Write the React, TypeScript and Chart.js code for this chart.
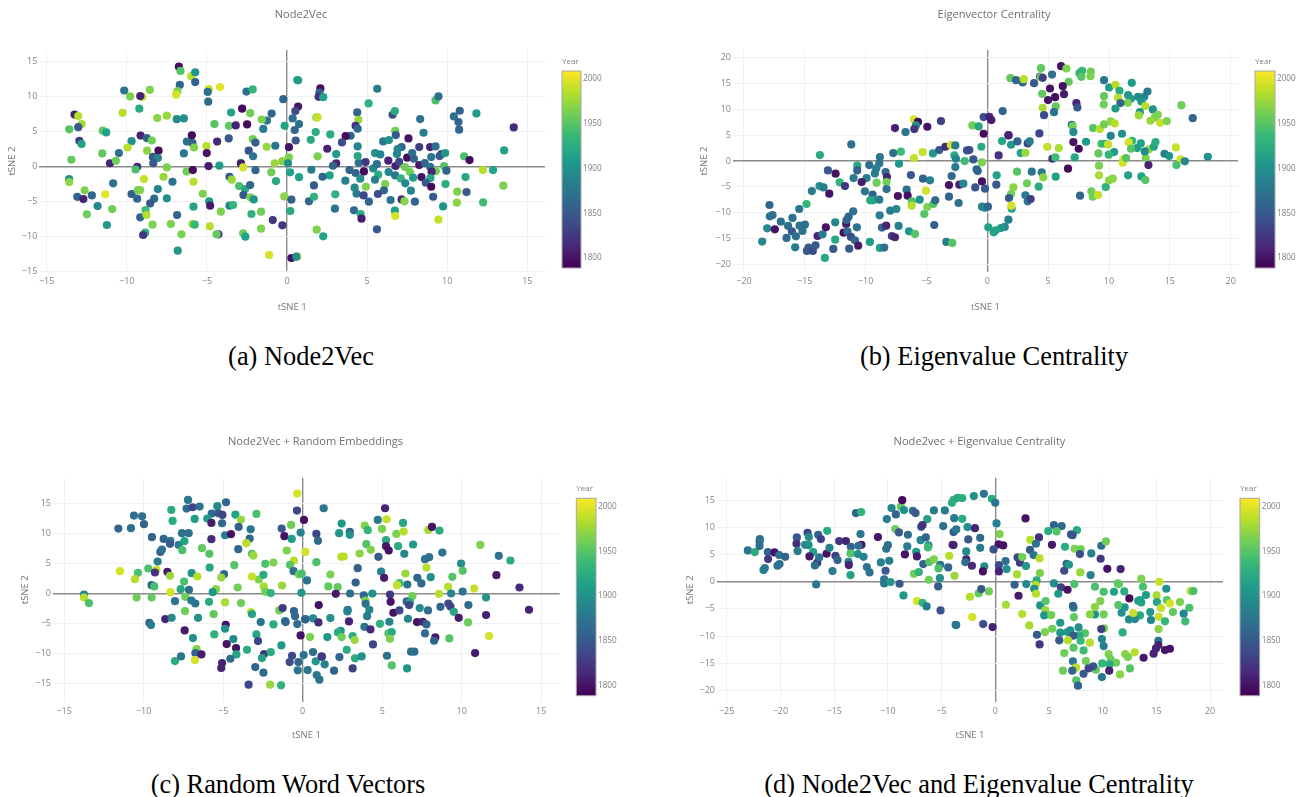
import React, { useEffect, useRef } from "react";
import { Chart, registerables } from "chart.js";

Chart.register(...registerables);

// Each point: [tSNE 1, tSNE 2, year]
const node2vecPoints: number[][] = [
[-6.75,14.3,1795],[-6.65,13.7,1950],[-5.98,12.95,1985],[-5.73,13.5,1905],[-5.73,12.1,1860],[-6.69,11.7,1860],[-6.84,10.8,1965],[-6.92,10.3,1995],[-4.88,11.1,1990],[-4.95,10.7,1870],[-4.18,11.4,2000],[-4.92,9.3,1865],[-10.16,10.9,1875],[-9.79,10.05,1965],[-9.04,10,1985],[-9.16,10.1,1810],[-8.56,11,1965],[-9.22,8.3,1925],[-10.26,7.7,1985],[-8.1,6.95,1970],[-7.5,7.3,1975],[-6.88,6.8,1895],[-6.44,6.9,1900],[-4.53,6.1,1950],[-3.49,7.75,1915],[-3.62,5.85,1955],[-3.2,5.9,1810],[-2.8,8.3,1795],[-2.49,6.05,1795],[-2.3,7.65,1960],[-2.53,10.75,1870],[-2.14,11.05,1935],[-0.23,9.65,1860],[0.64,12.4,1920],[0.69,12.35,1910],[0.69,8.6,1800],[0.52,7.95,1840],[0.35,6.9,1870],[-0.96,7.6,1860],[-1.25,6.6,1875],[-1.58,6.75,1965],[-1.48,5.4,1880],[-0.15,5.85,1915],[0.48,5.25,1860],[0.75,6.1,1875],[0.54,3.75,1850],
[-13.26,7.45,1810],[-13.03,7.25,1985],[-12.82,6.1,1980],[-13.03,5.65,1850],[-13.59,5.35,1950],[-12.96,3.7,1830],[-12.82,3.25,1915],[-11.5,5.15,1955],[-11.28,4.9,1915],[-9.14,4.45,1810],[-9.7,3.65,1900],[-8.75,4.1,1860],[-8.44,3.75,1960],[-9.95,2.75,1985],[-8.73,2.3,1970],[-8.02,2.3,1795],[-10.49,1.95,1870],[-11.53,1.9,1955],[-13.46,1,1955],[-8.37,1.4,1850],[-8.06,1.25,1890],[-11.05,0.5,1810],[-10.68,0.85,1960],[-8.35,0.5,1850],[-9.35,0,1815],[-9.45,-0.4,1945],[-7.5,-0.1,1965],[-6.25,3.6,1870],[-5.9,3.4,1860],[-5.94,4.5,1795],[-5.8,2.75,1965],[-6.44,1.9,1875],[-5.03,2.95,1985],[-4.36,3.6,1815],[-3.64,4.05,1850],[-5.01,1.95,1800],[-4.9,0.1,1805],[-4.22,0.15,1910],[-2.14,3.95,1960],[-1.97,3.45,1855],[-2.39,2.3,1845],[-2.12,1.5,1875],[-1.27,2.85,1975],[-0.73,3,1875],[0.12,2.8,1800],[0.12,1.35,1965],[-0.29,0.8,1970],[-0.77,0.5,1975],[0.06,0.5,1900],[1.48,3.85,1925],[1.79,4.95,1925],[1.83,7.05,1965],[1.9,7.05,1990],
[-2.89,0.55,1940],[-2.87,0.43,1805],[-2.74,-0.1,1995],[-1.97,-0.5,1860],[-0.98,-0.8,1960],[-0.69,-2.05,1925],[0.19,-0.8,1915],[0.75,-1.5,1915],[1.52,-0.43,1880],[-6.27,-0.7,1960],[-5.88,-0.48,1795],[-3.59,-1.43,1850],[-3.45,-1.85,1975],[-7.15,-2.15,1875],[-7.71,-1.43,1975],[-8.93,-1.76,1990],[-5.84,-2.15,1985],[-10.85,-2.38,1870],[-13.6,-1.76,1900],[-13.59,-2.2,1970],[-12.63,-3.38,1965],[-12.18,-4.1,1860],[-13.09,-4.3,1860],[-12.71,-4.62,1810],[-11.34,-3.95,2000],[-9.7,-3.9,1855],[-9.35,-4.57,1860],[-9.16,-3.33,1970],[-9.31,-3.33,1965],[-8.06,-3.2,1885],[-8.29,-4.57,1865],[-8.54,-5.24,1850],[-7.5,-4.52,1900],[-11.82,-5.62,1890],[-10.91,-6.05,1960],[-12.49,-6.8,1960],[-11.24,-8.33,1905],[-8.83,-6.2,1940],[-9.16,-7.24,1860],[-8.77,-6.9,1985],[-8.39,-8.29,1965],[-7.25,-8.19,1965],[-6.86,-6.9,1860],[-8.85,-9.43,1930],[-8.98,-9.76,1825],[-6.59,-9.67,1965],[-5.26,-3.86,1965],[-4.86,-4.95,1910],[-4.8,-5.57,1805],[-5.84,-5.71,1915],[-4.13,-6.43,1965],[-3.59,-5.57,1890],[-3.37,-5.48,1935],[-2.99,-2.76,1945],[-2.62,-3.2,1920],[-2.3,-2.62,1860],[-2.72,-4.05,1850],[-2.29,-4.38,1965],[-2.08,-4.67,1905],[-2.22,-6.76,1930],[-1.62,-6.43,1960],[-0.89,-7.62,1825],[-0.29,-8.38,1825],[-1.62,-8.86,1965],[-0.17,-4.24,1970],[0.27,-4.71,1855],[0.21,-6.33,1925],[1.37,-4.95,1860],[1.68,-4.29,1930],[1.68,-2.67,1850],[-4.82,-8.52,1985],[-5.9,-8.19,1975],[-5.76,-8.29,1935],[-4.28,-9.67,1835],[-4.4,-9.67,1955],[-2.74,-9.52,1960],[-2.6,-10,1915],[-6.82,-12,1905],[-1.12,-12.62,1995],[0.27,-13.05,1800],[0.64,-12.86,1995],[0.58,-12.86,1900],[1.85,-9,1965],[2.26,-9.95,1915],
[2.08,11.2,1795],[2.02,10.6,1860],[1.97,10,1820],[2.26,9.95,1915],[5.63,11.15,1880],[5.09,9.05,1930],[4.38,7.76,1860],[4.45,6.71,1975],[4.28,5.86,1820],[4.41,5.43,1860],[3.97,4.43,1860],[3.66,4.38,1795],[3.43,3.48,1840],[2.7,4.62,1925],[2.51,2.57,1810],[1.91,1.48,1965],[3.07,1.81,1910],[3.07,0.48,1810],[2.87,0.14,1860],[2.66,-1.24,1915],[2.22,-1.43,1860],[3.01,-3.95,1930],[3.64,-2,1885],[3.9,-0.48,1860],[4.28,-0.9,1860],[4.57,-1.71,1900],[4.47,0.57,1870],[4.41,1.52,1920],[4.41,2.9,1890],[4.9,0.67,1825],[4.8,-0.67,1795],[5.38,-0.24,1890],[5.61,0.38,1870],[5.69,-1.14,1925],[5.49,-1.86,1885],[4.92,-2.86,1965],[4.22,-3,1895],[4.34,-3.86,1880],[4.78,-4.1,1835],[5.11,-5,1860],[4.18,-6.24,1865],[4.59,-6.76,1925],[4.65,-7.43,1805],[2.99,-6,1875],[5.61,-8.95,1850],[5.49,1.95,1900],[5.82,1.76,1890],[6,3.62,1875],[6.36,3.81,1900],[6.59,7.43,1840],[6.73,7.95,1925],[6.75,5.14,1960],[6.79,4.52,1850],[7.58,4.05,1800],[7.15,2.81,1860],[6.9,2.52,1890],[6.86,1.81,1890],[6.32,0.86,1810],[6.77,0.1,1810],[7,0.71,1835],[7.5,1.29,1795],[7.81,1.95,1870],[7.92,1.14,1860],[8.25,2.81,1830],[8.25,0.24,1805],[7.36,-0.05,1960],[7.67,-0.76,1960],[6.34,-0.76,1890],[6.75,-1.24,1875],[7.1,-1.67,1930],[7.38,-2.38,1890],[7.87,-1.57,1910],[6.13,-2.48,1965],[6.05,-3.38,1860],[5.67,-3.9,1840],[6.46,-4.76,1875],[7.15,-4.67,1820],[7.33,-4.95,1970],[7.98,-5,1860],[7.73,-3.43,1890],[6.73,-6.29,1915],[6.75,-7.05,1995],[8.31,6.81,1870],[8.52,4.86,1880],[8.93,2.81,1810],[9.27,2.9,1870],[9.64,1.81,1825],[9.52,1.52,1850],[9,1.38,1875],[9.87,1.95,1905],[8.6,0.52,1860],[8.93,0,1870],[9.81,0.1,1950],[9.29,-0.62,1960],[9.02,-0.71,1810],[9.95,-0.57,1860],[8.39,-1.48,1800],[8.95,-1.62,1915],[8.66,-2.29,1850],[9,-2.86,1795],[9.89,-2.48,1925],[9.12,-4.29,1850],[9.74,-5.67,1900],[9.45,-7.57,1990],[9.27,9.48,1945],[9.45,10.05,1870],[10.41,7.19,1870],[10.78,8,1860],[10.7,6.38,1860],[10.74,5.29,1860],[11.82,7.62,1910],[11.05,1.48,1945],[11.39,0.95,1795],[11.14,-1.48,1920],[10.62,-3.57,1965],[11.2,-3.62,1850],[10.6,-5.14,1970],[12.22,-0.48,1985],[12.86,-0.48,1915],[12.24,-5.1,1940],[13.5,-2.71,1965],[13.55,2.33,1915],[14.15,5.62,1815],
];

const eigenvectorPoints: number[][] = [
[-6.03,8.06,1995],[-5.7,7.61,1795],[-5.87,6.9,1900],[-6,6.19,1825],[-7.59,6.39,1810],[-6.72,5.61,1870],[-4.93,6.65,1800],[-3.81,7.74,1830],[-0.3,8.52,1840],[0.16,8.58,1810],[0.33,7.94,1805],[1.26,9.68,1860],[-1.23,6.9,1960],[-0.71,6.71,1920],[-0.3,5.29,1795],[-11.18,3.23,1870],[-13.76,1.16,1925],[-7.73,1.55,1865],[-7.1,1.81,1940],[-8.83,0.77,1875],[-6.03,0.58,1990],[-5.32,1.74,1990],[-4.47,1.48,1905],[-3.95,2.13,1850],[-3.45,2.77,1815],[-2.99,3.1,1995],[-2.63,3.03,1880],[-2.71,1.1,1925],[-2.58,0.45,1885],[-1.67,2.06,1850],[-1.48,2.13,1840],[-0.49,2.77,1925],[-1.15,0.32,1850],[-1.86,0,1940],[-0.44,-0.26,1965],[-2.63,-1.16,1880],[-0.88,-1.61,1860],[-0.79,-1.94,1860],[-2.93,-2.9,1865],[-6.28,-2.71,1850],[-7.26,-0.52,1905],[-8.88,-0.45,1875],[-9.7,-0.77,1870],[-10.69,-0.9,1920],[-10.69,-1.81,1855],[-10.99,-3.29,1880],[-9.92,-3.29,1885],[-9.13,-1.42,1885],[-9.24,-2.39,1880],[-8.36,-2.13,1865],[-8.25,-3.1,1810],[-8.28,-4.06,1960],[-9.1,-4.19,1960],[-10.33,-4.06,1805],[-12.14,-4.13,1935],[-11.7,-4.84,1825],[-12.47,-2.45,1800],[-13.1,-1.81,1850],[-13.79,-4.84,1900],[-13.46,-5.1,1880],[-14.42,-5.81,1880],[-12.99,-6.32,1800],[-14.86,-8.32,1935],[-15.46,-9.29,1875],[-17.9,-8.52,1860],[-17.87,-10.71,1870],[-17.65,-10.45,1870],[-16.97,-11.74,1870],[-16.01,-11.03,1870],[-18.09,-13.03,1895],[-17.46,-13.23,1800],[-16.37,-12.58,1870],[-15.43,-12.52,1875],[-14.99,-12.32,1870],[-16.06,-13.61,1850],[-15.19,-13.55,1870],[-16.5,-14.9,1865],[-15.73,-14.58,1870],[-18.5,-15.61,1890],[-15.79,-16.71,1880],[-14.69,-16.77,1855],[-14.83,-17.42,1850],[-14.34,-17.42,1840],[-14.12,-16.32,1850],[-13.95,-14.52,1810],[-13.54,-14.19,1880],[-13.27,-12.84,1800],[-13.35,-18.77,1920],[-12.66,-17.03,1850],[-12.5,-11.87,1890],[-12.5,-15.23,1920],[-11.81,-13.87,1800],[-11.6,-12.19,1805],[-11.57,-11.42,1860],[-11.4,-10.77,1860],[-11.02,-9.74,1870],[-10.72,-12.84,1875],[-11.49,-13.68,1865],[-11.21,-14.71,1840],[-10.88,-15.35,1860],[-10.61,-16.39,1805],[-11.35,-16.97,1850],[-9.65,-15.68,1910],[-8.83,-16.84,1915],[-8.47,-16.77,1870],[-10.06,-5.87,1875],[-9.43,-6.52,1860],[-9.62,-7.61,1925],[-9.4,-7.61,1920],[-8.88,-7.48,1880],[-8.28,-5.42,1870],[-7.35,-6.77,1800],[-6.63,-5.55,1870],[-6.55,-6.71,1800],[-6.2,-7.81,1945],[-6.22,-8.65,1985],[-5.56,-7.48,1900],[-8.85,-10.52,1880],[-7.98,-9.61,1880],[-7.48,-9.29,1890],[-8.66,-12.9,1860],[-8.31,-12.52,1810],[-7.29,-12.58,1885],[-7.84,-14.52,1830],[-7.59,-14.77,1810],[-6.44,-13.61,1905],[-5.95,-14.13,1950],[-4.36,-12.39,1855],[-5.18,-10.26,1950],[-4.93,-8.9,1965],[-4.44,-8.32,1950],[-4.28,-7.61,1865],[-5.04,-5.74,1995],[-4.71,-3.74,1890],[-5.29,-3.42,1860],[-3.15,-4.65,1800],[-2.3,-4.58,1810],[-1.97,-4.39,1890],[-3.15,-6.9,1860],[-2.36,-8.13,1870],[-0.99,-5.1,1845],[-0.19,-5.35,1850],[-0.44,-3.94,1800],[-3.37,-15.68,1880],[-2.88,-15.87,1950],[-0.44,-8.84,1890],[-0.22,-9.03,1890],[0.05,-8.84,1860],[0.08,-12.84,1915],[0.77,-2.77,1915],[0.74,-4.58,1850],[0.93,1.1,1820],[1.21,3.87,1920],[1.73,5.03,1805],
[1.89,16.06,1955],[2.36,15.68,1860],[2.91,15.23,1860],[2.99,15.87,1985],[3.84,15.1,1850],[4.33,16.39,1860],[4.41,16.26,1965],[4.55,16.13,1830],[4.41,18,1955],[5.32,16.77,1870],[6.06,18.39,1800],[6.5,17.94,1965],[6.69,15.35,1955],[7.57,17.03,1935],[7.79,17.48,1935],[7.73,16.32,1950],[8.5,17.35,1960],[8.47,16.45,1965],[9.59,15.68,1875],[10.01,14.26,1910],[10.53,14.77,1985],[10.86,13.61,1925],[11.87,15.16,1910],[10.75,12.26,1985],[11.57,12.77,1905],[11.79,12.06,1905],[12.39,12.45,1895],[12.89,12.45,1890],[13.16,13.48,1880],[12.66,11.55,1905],[11.54,11.29,1965],[9.59,12.58,1955],[9.57,10.97,1960],[10.94,11.23,1860],[10.53,10.19,1910],[12.97,10.65,1985],[13.6,10,1900],[12.53,9.48,1900],[12.45,8.84,1975],[14.01,8.97,1965],[13.76,8.45,1965],[13.4,7.81,1975],[14.2,7.42,1990],[14.75,7.74,1965],[15.95,10.84,1960],[16.88,8.32,1860],[4.5,13.03,1955],[5.15,14.06,1800],[6.2,14.52,1800],[6.3,12.97,1805],[5.57,12.39,1795],[4.99,11.81,1800],[7.32,11.23,1810],[7.4,10.39,1850],[5.62,10.58,1955],[4.55,10.32,1980],[5.48,9.48,1870],[4.66,8.9,1840],[6.94,7.03,1860],[7.02,6.77,1960],[7.07,5.61,1895],[8.69,6.39,1950],[9.24,6.19,1985],[9.59,7.1,1960],[10.14,7.68,1970],[10.47,7.29,1985],[10.14,4.9,1885],[11.07,5.29,1900],[11.9,3.94,1935],[11.62,3.61,1995],[9.38,3.35,1940],[9.7,3.35,1930],[9.92,3.23,1990],[10.42,1.74,1910],[9.98,1.23,1935],[9.13,1.48,1955],[8.11,3.74,1910],[7.07,3.68,1800],[7.51,2.39,1795],[5.87,2.52,1980],[4.93,2.77,1990],[4.28,5.35,1835],[1.75,4.97,1810],[1.95,3.16,1905],[2.47,3.81,1860],[3.32,3.42,1835],[3.48,3.81,1880],[2.74,1.55,1915],[3.13,1.61,1975],[5.35,0.45,1820],[5.59,0.71,1940],[7.18,0.71,1920],[6.63,-1.48,1795],[3.65,-2.06,1875],[4.47,-2.19,1880],[4.6,-3.16,1970],[2.44,-2.06,1950],[3.26,-4.32,1960],[2.14,-5.1,1970],[5.62,-3.03,1915],[4.22,-4.97,1925],[1.95,-6.39,1960],[1.78,-7.16,1850],[3.13,-6.65,1880],[3.32,-7.81,1875],[3.56,-7.35,1830],[2,-9.23,1920],[1.97,-8.65,1995],[1.73,-11.35,1880],[1.43,-12.77,1890],[1.12,-12.97,1905],[0.69,-13.42,1915],[0.52,-13.81,1915],[7.62,-6.71,1860],[8.55,-5.87,1960],[8.66,-6.9,1960],[9.1,-6.58,1990],[9.73,-5.03,1930],[10.31,-3.42,1970],[10.01,-3.74,1970],[9.18,-2.77,1980],[9.18,-0.9,1965],[11.57,-2.77,1915],[12.66,-2.97,1915],[12.99,-3.68,1950],[11.13,-0.32,1995],[11.18,0.32,1995],[11.4,0.58,1950],[13.02,0.58,1965],[13.27,2.26,1975],[12.94,1.87,1895],[12.31,2.52,1910],[12.61,3.42,1915],[11.81,2.39,1950],[13.68,2.77,1915],[13.82,3.68,1925],[13.24,-0.77,1810],[14.56,1.42,1885],[14.94,0.97,1905],[15.49,2.65,1990],[15.87,0.32,1995],[16.23,-0.06,1890],[15.54,-0.77,1945],[18.12,0.84,1900],
];

const randomPoints: number[][] = [
[-0.34,16.67,1995],[-4.82,15.22,1860],[-7.21,15.61,1875],[-7.3,14.17,1865],[-6.92,14.39,1835],[-6.48,14.5,1875],[-5.37,14.56,1895],[-5.72,13.33,1865],[-5.3,13.39,1850],[-5.05,13.11,1835],[-8.26,13.94,1925],[-6.79,12.44,1910],[-6,12.5,1910],[-5.07,11.72,1865],[-5.74,11.78,1805],[-4.23,13.17,1915],[-3.88,12.33,1975],[-2.91,13.28,1945],[-4.03,11.11,1855],[-3.27,10.72,1875],[-0.36,13.83,1835],[0.08,12.28,1800],[-0.73,11.44,1960],[-1.32,10.83,1850],[-0.13,10.17,1885],[-1.15,9.56,1800],[-0.69,9.11,1910],[-1,7.17,1965],[-10.61,13,1870],[-10.1,12.89,1870],[-9.98,11.56,1860],[-11.59,10.83,1860],[-10.8,10.89,1870],[-8.18,12.11,1925],[-7.59,10.06,1870],[-7.17,10.06,1870],[-9.48,9.39,1860],[-8.74,9.11,1860],[-8.32,8.78,1880],[-8.34,8.28,1850],[-7.8,8.11,1885],[-7.44,8.72,1915],[-7.57,7.22,1945],[-8.95,6.94,1855],[-8.85,7.33,1870],[-9.12,5.33,1880],[-6.33,7.56,1955],[-5.87,6.61,1950],[-5.74,9.06,1815],[-4.88,9.72,1885],[-4.51,9.89,1800],[-3.33,9.17,1860],[-3.54,8.39,1985],[-4.05,7.39,1860],[-3.19,6.61,1950],[-3.1,6.33,1975],[-4.3,4.72,1950],[-2.35,4.94,1945],[-1.84,5.17,1965],[-0.55,5.5,1985],[-0.8,4.78,1950],[0.17,6.94,1995],[0.86,5.22,1945],[0.86,9.94,1835],[0.96,8.78,1865],[-11.49,3.72,1995],[-10.36,3.44,1945],[-10.55,2.39,1985],[-9.71,4.17,1945],[-9.2,3.94,1990],[-9.29,3.5,1820],[-8.51,3.61,1805],[-8.34,2.94,1975],[-9.5,1.39,1860],[-9.33,1.17,1945],[-7.46,2,1945],[-6.98,3.39,1900],[-6.62,2.83,1985],[-5.85,4.33,1920],[-4.95,3.22,1860],[-5.12,2.67,1975],[-2.77,2.33,1965],[-2.47,3.11,1925],[-3.19,2.83,1990],[-2.45,1.17,1980],[-1.3,1.33,1975],[-0.57,3.72,1870],[-0.23,3.17,1960],[-0.06,3.33,1945],[0.27,2.17,1875],[-8.32,0.22,1995],[-7.67,0.72,1920],[-7.15,0.61,1870],[-5.45,0.72,1970],[-5.66,0.22,1905],[-4.09,1,1960],[-2.35,0.28,1960],[-2.01,0.06,1930],[-0.08,0.11,1905],[-13.75,-0.17,1890],[-13.75,-0.67,1985],[-13.44,-1.61,1945],[-10.44,-0.67,1960],[-9.5,-0.67,1955],[-8.03,-1.28,1875],[-7.38,-0.56,1960],[-7,-1.17,1875],[-6.75,-1.67,1875],[-5.89,-1.39,1925],[-4.88,-1.5,1980],[-3.88,-1.61,1960],[-7.4,-2.94,1960],[-5.6,-3.44,1955],[-3.25,-3.11,1990],[-3.19,-3.44,1915],[-1.47,-2.83,1960],[-1.26,-2.44,1825],[-0.55,-2.94,1860],[-0.48,-3.78,1865],[0.17,-4.28,1850],[0.65,-4.17,1895],[1.01,-1.94,1800],[0.99,-4.83,1815],[-0.34,-5.11,1870],[-9.64,-4.89,1855],[-9.54,-5.28,1880],[-8.64,-4.28,1810],[-8.24,-4.06,1895],[-6.58,-4.06,1900],[-4.84,-5.22,1800],[-4.88,-5.89,1900],[-2.64,-4.78,1875],[-1.84,-5.17,1925],[-1.11,-4.61,1890],[-1.07,-4.78,1860],[-7.42,-6.17,1805],[-5.56,-6.83,1930],[-6.9,-7.44,1900],[-4.36,-7.61,1895],[-2.91,-6.83,1920],[-2.81,-7.94,1835],[-1.34,-8.67,1905],[-0.13,-7,1800],[0.46,-7.28,1965],[-4.78,-8.44,1800],[-4.19,-9.11,1800],[-3.5,-9.39,1925],[-6.67,-9.28,1965],[-6.75,-9.94,1860],[-6.37,-10.17,1805],[-4.17,-10.17,1915],[-4.55,-10.89,1865],[-2.43,-10.11,1825],[-2.01,-9.78,1925],[-2.56,-10.78,1915],[-8.03,-11.28,1925],[-7.65,-10.5,1875],[-6.77,-11.11,1995],[-5.07,-11.61,1810],[-5.12,-12.44,1810],[-2.98,-12.28,1860],[-2.47,-13.22,1865],[-0.67,-10.39,1840],[-0.82,-11.44,1840],[0.06,-10.28,1870],[0.65,-9.78,1870],[-0.27,-11.44,1860],[0.82,-11.33,1905],[-0.31,-12.83,1875],[0.31,-12.78,1875],[0.88,-13.61,1875],[1.05,-14.39,1870],[-3.4,-15.22,1835],[-2.05,-15.22,1975],[-1.36,-15.33,1930],[1.2,-10.56,1825],
[1.32,14.22,1875],[5.18,14.22,1810],[5.28,12.39,1990],[2.45,11.67,1905],[4.72,12.28,1880],[6.31,11.78,1920],[3.9,11.33,1965],[4.09,10.56,1935],[4.99,10.78,1965],[2.96,10.28,1860],[2.96,9.78,1900],[2.29,10.06,1905],[5.89,9.94,1965],[6.35,10.33,1985],[7.9,10.61,1980],[8.13,11.11,1800],[8.6,10.5,1925],[5.24,8.89,1925],[4,8.22,1950],[4.28,7.28,1965],[5.24,7.89,1805],[5.41,7.17,1800],[6,7.89,1925],[6.94,8.17,1910],[6.39,6.61,1890],[11.17,8.11,1965],[12.33,6.28,1870],[13.06,5.5,1925],[8.78,6.83,1875],[7.95,6.06,1870],[7.69,5.72,1870],[2.43,6.11,1985],[2.58,6.17,1985],[3.58,6.67,1970],[4.76,6.11,1850],[3.46,4.22,1855],[4.93,3.67,1885],[5.12,2.61,1805],[7.78,4.33,1985],[7.21,2.61,1860],[7.46,1.67,1865],[8.05,2.72,1900],[6.46,3.33,1975],[9.96,5,1900],[10.06,3.78,1950],[9.41,2.78,1950],[9.14,1.11,1985],[10.78,0.83,1990],[12.18,3.06,1805],[13.63,1,1815],[14.23,-2.72,1810],[11.53,-0.67,1905],[1.74,3.17,1965],[3.33,1.83,1855],[1.61,1.17,1955],[2.2,1.06,1955],[6.08,1.72,1940],[5.93,1.39,1990],[6.58,1.5,1875],[6.9,-0.44,1960],[8.57,-0.06,1985],[9.33,0,1890],[10.06,0.33,1875],[2.08,-0.06,1805],[2.98,0,1870],[3.84,-0.33,1860],[4.38,0,1900],[5.49,-0.17,1825],[5.53,-1.39,1800],[6.54,-1.33,1860],[6.75,-1.5,1930],[6.69,-1.94,1835],[3.94,-1.17,1965],[3.96,-1.72,1870],[4.19,-2.72,1890],[4.05,-3.78,1880],[2.83,-2.72,1880],[2.81,-3,1885],[5.7,-3.22,1800],[6.08,-2.83,1835],[7.36,-2.44,1895],[7.88,-2.83,1870],[8.66,-2.22,1860],[9.16,-1.67,1840],[9.29,-2.17,1835],[9.5,-3.06,1920],[10.42,-1.94,1865],[9.81,-4.06,1805],[11.53,-3.61,1810],[10.4,-4.83,1960],[0.15,-4.33,1860],[1.74,-4.11,1900],[2.91,-4.67,1810],[4.86,-5.06,1930],[5.45,-4.72,1890],[6.62,-4.22,1890],[7.19,-4.78,1800],[7.55,-4.72,1810],[7.78,-5.17,1860],[3.88,-5.56,1875],[4.26,-6,1815],[2.39,-6.22,1900],[2.22,-6.5,1925],[2.45,-7.28,1960],[1.55,-7.28,1905],[3.14,-7.11,1925],[3.27,-7.78,1975],[5.39,-6.67,1950],[5.6,-6.44,1925],[5.49,-7.56,1965],[7.69,-6.67,1865],[8.34,-7.33,1805],[8.26,-7.89,1860],[9.22,-7.5,1950],[11.72,-7.11,1995],[4.42,-8.5,1835],[2.77,-9.39,1925],[6.81,-9.72,1870],[7.02,-9.72,1870],[5.3,-10.39,1870],[10.84,-9.94,1805],[2.31,-10.61,1860],[1.19,-10.5,1825],[3.29,-10.83,1925],[3.71,-10.5,1900],[1.38,-11.83,1885],[3.14,-12.5,1830],[1.97,-12.89,1860],[5.6,-12,1950],[6.56,-12.5,1905],
];

const combinedPoints: number[][] = [
[-23.03,5.77,1875],[-22.38,5.46,1925],[-21.91,7.86,1865],[-21.94,7.37,1870],[-21.94,6.57,1870],[-21.17,5.46,1860],[-20.55,5.4,1800],[-21.14,4.17,1825],[-20.11,4.91,1870],[-19.55,4.6,1860],[-20.08,3.25,1870],[-20.27,2.95,1870],[-21.45,2.52,1880],[-21.57,2.15,1880],[-18.47,8.16,1850],[-18.5,7,1820],[-18.4,5.65,1880],[-17.47,9.02,1835],[-17.35,8.23,1895],[-17.69,6.81,1890],[-17.38,6.75,1900],[-16.95,5.46,1915],[-17.29,4.67,1805],[-16.57,3.5,1815],[-16.79,3.01,1870],[-16.39,4.48,1875],[-16.48,8.66,1860],[-16.23,7.86,1830],[-15.64,9.39,1925],[-15.7,5.16,1800],[-15.43,6.26,1885],[-14.53,7.49,1825],[-13.9,7.49,1810],[-13.44,6.45,1860],[-14.87,4.79,1830],[-14.68,3.99,1860],[-15.15,1.96,1880],[-16.67,-0.49,1875],[-13.66,3.68,1890],[-13.63,3.07,1810],[-13.47,5.22,1950],[-13.47,1.23,1915],[-12.97,12.65,1860],[-12.48,12.83,1930],[-12.54,8.78,1875],[-12.45,6.81,1805],[-12.73,6.63,1870],[-12.79,5.1,1900],[-12.26,4.6,1885],[-11.95,2.7,1875],[-11.7,1.72,1870],[-10.92,8.23,1800],[-10.09,11.54,1880],[-9.65,13.57,1890],[-9.25,12.4,1860],[-8.78,13.81,1955],[-8.66,15.04,1795],[-8.5,13.2,1900],[-7.67,13.08,1870],[-7.42,12.65,1850],[-6.33,11.54,1915],[-5.71,13.14,1880],[-4.69,13.14,1880],[-9.31,9.7,1960],[-8.97,9.09,1850],[-8.13,8.66,1870],[-6.89,10.13,1835],[-6.77,10.44,1820],[-6.95,7.67,1890],[-6.46,8.16,1860],[-9.99,6.75,1870],[-10.15,6.08,1870],[-10.65,3.56,1885],[-9.87,3.87,1880],[-10.21,2.03,1850],[-10.34,0.43,1875],[-10.34,-0.31,1875],[-9.75,-0.06,1905],[-8.91,-0.37,1850],[-8.19,6.51,1880],[-8.41,5.03,1800],[-7.36,5.52,1910],[-7.29,4.67,1805],[-6.21,6.69,1900],[-6.27,6.32,1940],[-6.7,3.25,1860],[-6.15,3.62,1950],[-5.71,4.11,1965],[-5.12,3.13,1875],[-5.28,2.46,1945],[-7.57,1.47,1960],[-7.11,1.78,1930],[-6.18,0.37,1960],[-5.15,0.68,1900],[-5.31,-0.86,1850],[-8.54,-2.52,1905],[-7.29,-3.56,1995],[-6.77,-3.87,1935],[-6.39,-4.54,1880],[-5.09,-5.28,1845],[-4.28,4.79,1985],[-4.38,2.64,1860],[-4.84,10.25,1870],[-3.82,11.72,1880],[-3.07,11.6,1925],[-3.88,9.15,1850],[-3.63,9.64,1880],[-4.03,14.55,1925],[-3.88,15.1,1930],[-3.51,15.47,1925],[-3.07,15.41,1925],[-1.99,15.78,1900],[-1.06,16.21,1875],[-0.31,15.29,1925],[0,14.55,1875],[-2.58,10.07,1900],[-1.89,9.88,1810],[-2.51,7.8,1850],[-1.4,8.1,1865],[-3.88,6.75,1825],[-3.97,6.81,1810],[-2.7,5.59,1895],[-1.4,6.26,1880],[-2.7,4.11,1810],[-2.79,3.62,1870],[-2.17,2.95,1815],[-1.02,2.82,1900],[-1.15,1.9,1800],[-3.79,1.1,1975],[-3.69,-7.92,1880],[-3.63,-7.98,1875],[-2.36,-2.76,1985],[-1.55,-2.15,1955],[-1.3,-1.35,1850],[-0.59,-1.78,1960],[-2.14,-6.51,1995],[-1.12,-7.8,1840],[-0.25,-8.35,1810],[0.12,10.74,1885],[0.4,8.78,1965],[0.31,6.88,1800],[-0.16,5.95,1845],[0.34,3.07,1840],[0.34,1.9,1810],
[2.82,11.66,1800],[5.46,10.44,1860],[6.18,10.25,1865],[4.93,9.33,1925],[5.71,9.27,1950],[7.6,9.51,1925],[7.05,8.72,1860],[7.2,8.59,1845],[4.07,8.16,1820],[3.26,7.73,1985],[3.79,7,1875],[5.28,6.81,1805],[6.49,6.45,1925],[7.39,6.08,1965],[7.95,6.02,1960],[7.88,5.1,1840],[9.87,6.63,1870],[10.3,7.43,1960],[8.94,5.22,1885],[9.81,4.24,1825],[10.43,2.39,1800],[11.67,2.33,1810],[0.74,6.69,1800],[0.96,3.81,1870],[1.06,2.33,1900],[2.08,4.48,1840],[2.3,3.5,1830],[2.51,4.54,1960],[3.23,5.89,1850],[3.57,4.91,1875],[4.13,4.3,1985],[2.86,2.89,1905],[4.16,1.6,1965],[2.02,1.35,1980],[3.85,0.25,1925],[3.76,-0.61,1985],[3.63,-1.29,1900],[3.79,-2.21,1985],[2.89,-0.43,1895],[1.8,-0.55,1855],[2.17,-2.58,1805],[0.99,-4.24,1980],[2.51,-5.95,1985],[3.17,-8.04,1980],[3.88,-9.76,1850],[4.13,-11.54,1825],[4.19,-4.36,1900],[4.69,-3.56,1950],[4.66,-5.22,1975],[4.56,-6.2,1905],[5.21,-6.14,1960],[5.31,-8.66,1960],[4.62,-9.27,1965],[6.42,2.03,1840],[6.64,3.31,1860],[6.86,3.13,1905],[7.91,1.72,1975],[8.88,1.23,1885],[5.46,-0.31,1895],[6.11,-1.04,1830],[6.73,-1.47,1800],[5.87,-2.21,1905],[7.36,-0.43,1945],[9.28,-0.92,1945],[10.09,-1.84,1945],[11.05,-1.84,1915],[12.01,-1.78,1925],[11.39,-0.31,1955],[11.51,-0.43,1955],[12.48,-3.07,1795],[13.59,0.55,1965],[15.27,0,1990],[13.75,-0.92,1945],[15.92,-1.29,1900],[15.02,-2.52,1980],[14.03,-2.46,1910],[13.47,-3.38,1925],[13.31,-3.5,1910],[13.59,-3.81,1915],[15.05,-3.74,1920],[15.98,-3.38,1950],[16.26,-3.99,1995],[17.19,-3.74,1965],[18.19,-1.72,1985],[18.44,-1.72,1945],[18.06,-4.79,1945],[17.54,-5.89,1890],[16.54,-5.59,1955],[15.43,-4.85,1990],[15.21,-6.45,1990],[17.69,-7.3,1940],[15.8,-7.3,1935],[15.21,-8.72,1970],[14.43,-5.59,1905],[14.49,-7.06,1890],[13.47,-6.2,1920],[13,-6.88,1895],[12.45,-6.94,1895],[12.85,-5.77,1990],[11.76,-5.71,1900],[12.04,-4.73,1905],[11.45,-4.3,1950],[9.28,-6.02,1900],[9.78,-3.56,1965],[9.28,-4.67,1970],[10.09,-6.02,1960],[8.81,-6.02,1970],[7.29,-4.79,1890],[7.23,-4.42,1860],[7.32,-6.51,1955],[6.05,-7.55,1905],[6.05,-9.39,1905],[6.73,-9.27,1905],[6.98,-8.96,1900],[7.76,-8.41,1900],[8.35,-9.51,1950],[7.82,-9.88,1925],[7.26,-9.94,1850],[6.77,-10.8,1985],[5.96,-10.8,1850],[7.95,-10.87,1935],[8.81,-11.23,1985],[10.12,-8.59,1965],[9.87,-8.72,1830],[11.86,-9.33,1925],[9.93,-10.56,1890],[10.09,-11.85,1885],[7.29,-12.15,1950],[6.42,-13.14,1960],[8.22,-12.65,1940],[7.23,-14.67,1875],[8.44,-14.61,1960],[10.55,-13.32,1965],[10.74,-14.3,1960],[11.24,-14.92,1960],[9.96,-15.04,1935],[10.65,-15.22,1925],[12.1,-13.32,1970],[12.35,-13.87,1965],[12.98,-13.01,1985],[13.81,-14,1805],[14.74,-13.26,1810],[15.18,-10.87,1875],[15.18,-11.66,1810],[14.96,-12.28,1810],[15.8,-12.58,1800],[16.26,-12.34,1800],[12.54,-15.96,1950],[11.61,-17.07,1970],[10.61,-16.39,1810],[9.93,-17.56,1875],[9.37,-16.21,1955],[9.12,-15.59,1850],[8.69,-15.96,1835],[8.22,-16.97,1850],[7.51,-15.84,1985],[7.17,-16.39,1860],[6.3,-16.39,1960],[7.54,-18.17,1950],[7.7,-19.15,1860],
];

const titles = ["Node2Vec", "Eigenvector Centrality", "Node2Vec + Random Embeddings", "Node2vec + Eigenvalue Centrality"];
const captions = ["(a) Node2Vec", "(b) Eigenvalue Centrality", "(c) Random Word Vectors", "(d) Node2Vec and Eigenvalue Centrality"];
const xTicksAC = [-15, -10, -5, 0, 5, 10, 15];
const yTicksA = [-15, -10, -5, 0, 5, 10, 15];
const ticksB = [-20, -15, -10, -5, 0, 5, 10, 15, 20];
const yTicksC = [-15, -10, -5, 0, 5, 10, 15];
const xTicksD = [-25, -20, -15, -10, -5, 0, 5, 10, 15, 20];
const yTicksD = [-20, -15, -10, -5, 0, 5, 10, 15];
const yearTicks = [1800, 1850, 1900, 1950, 2000];
const yearMin = 1789;
const yearMax = 2009;
const viridis = ["#440154", "#482878", "#3e4a89", "#31688e", "#26828e", "#1f9e89", "#35b779", "#6ece58", "#b5de2b", "#fde725"];

const panels = [
  { points: node2vecPoints, title: titles[0], xTicks: xTicksAC, yTicks: yTicksA, xMin: -15.46, xMax: 16.1, yMin: -15.05, yMax: 16.67, canvas: { l: 0, t: 0, w: 602, h: 315 }, plot: { l: 39.3, t: 50, r: 545, b: 272 }, bar: { l: 562, t: 71, r: 581, b: 268 } },
  { points: eigenvectorPoints, title: titles[1], xTicks: ticksB, yTicks: ticksB, xMin: -20.9, xMax: 20.6, yMin: -21.5, yMax: 21.5, canvas: { l: 692, t: 0, w: 604, h: 315 }, plot: { l: 733, t: 50, r: 1238, b: 272 }, bar: { l: 1255, t: 71, r: 1275, b: 268 } },
  { points: randomPoints, title: titles[2], xTicks: xTicksAC, yTicks: yTicksC, xMin: -15.7, xMax: 16.16, yMin: -18.06, yMax: 19.3, canvas: { l: 13, t: 427, w: 605, h: 316 }, plot: { l: 53, t: 477.7, r: 559.7, b: 701.7 }, bar: { l: 576.3, t: 498.3, r: 596, b: 695.7 } },
  { points: combinedPoints, title: titles[3], xTicks: xTicksD, yTicks: yTicksD, xMin: -25.9, xMax: 21.2, yMin: -22.1, yMax: 19.15, canvas: { l: 678, t: 427, w: 603, h: 316 }, plot: { l: 717, t: 477.7, r: 1223, b: 701.7 }, bar: { l: 1240, t: 498.3, r: 1259.7, b: 695.7 } },
];

const captionCenters = [301, 994, 288, 979];
const captionTops = [356, 356, 784, 784];

function hexToRgb(h: string) {
  return [parseInt(h.slice(1, 3), 16), parseInt(h.slice(3, 5), 16), parseInt(h.slice(5, 7), 16)];
}
function yearColor(year: number) {
  const f = Math.min(1, Math.max(0, (year - yearMin) / (yearMax - yearMin))) * (viridis.length - 1);
  const i = Math.min(viridis.length - 2, Math.floor(f));
  const a = hexToRgb(viridis[i]);
  const b = hexToRgb(viridis[i + 1]);
  const t = f - i;
  return `rgb(${a.map((v, k) => Math.round(v + (b[k] - v) * t)).join(",")})`;
}
const sans = '"Open Sans", sans-serif';
const fmt = (v: any) => (Number(v) < 0 ? "\u2212" + Math.abs(Number(v)) : String(v));

function Panel({ cfg }: { cfg: (typeof panels)[number] }) {
  const ref = useRef<HTMLCanvasElement>(null);
  useEffect(() => {
    const { canvas: c, plot: p, bar: b } = cfg;
    const barPlugin = {
      id: "yearBar",
      afterDraw(chart: any) {
        const ctx = chart.ctx;
        const l = b.l - c.l, r = b.r - c.l, t = b.t - c.t, bt = b.b - c.t;
        const g = ctx.createLinearGradient(0, bt, 0, t);
        viridis.forEach((col, i) => g.addColorStop(i / (viridis.length - 1), col));
        ctx.save();
        ctx.fillStyle = g;
        ctx.fillRect(l, t, r - l, bt - t);
        ctx.strokeStyle = "#a8a8a8";
        ctx.lineWidth = 1;
        ctx.strokeRect(l, t, r - l, bt - t);
        ctx.font = `8.2px ${sans}`;
        ctx.fillStyle = "#7f7f7f";
        ctx.textAlign = "left";
        ctx.textBaseline = "middle";
        yearTicks.forEach((y) => {
          const py = bt - ((y - yearMin) / (yearMax - yearMin)) * (bt - t);
          ctx.fillText(String(y), r + 2, py);
        });
        ctx.font = `8px ${sans}`;
        ctx.fillText("Year", l, t - 9.5);
        ctx.restore();
      },
    };
    const chart = new Chart(ref.current!, {
      type: "scatter",
      data: {
        datasets: [
          {
            data: cfg.points.map((q) => ({ x: q[0], y: q[1] })),
            backgroundColor: cfg.points.map((q) => yearColor(q[2])),
            pointRadius: 4.1,
            pointBorderWidth: 0,
          },
        ],
      },
      options: {
        responsive: false,
        animation: false,
        layout: { padding: 0 },
        plugins: {
          legend: { display: false },
          tooltip: { enabled: false },
          title: {
            display: true,
            text: cfg.title,
            color: "#6f6f6f",
            font: { family: sans, size: 11.1, weight: "normal" },
            padding: { top: 8.4, bottom: p.t - c.t - 21.6 },
          },
        },
        scales: {
          x: {
            type: "linear",
            min: cfg.xMin,
            max: cfg.xMax,
            afterBuildTicks: (s: any) => { s.ticks = cfg.xTicks.map((value) => ({ value })); },
            afterFit: (s: any) => { s.height = c.t + c.h - p.b; },
            border: { display: false },
            grid: {
              color: (ctx: any) => (ctx.tick && ctx.tick.value === 0 ? "#8a8a8a" : "#f0f0f0"),
              lineWidth: (ctx: any) => (ctx.tick && ctx.tick.value === 0 ? 1.4 : 1),
              drawTicks: false,
            },
            ticks: { color: "#858585", font: { family: sans, size: 9 }, padding: 4, maxRotation: 0, autoSkip: false, callback: fmt },
            title: { display: true, text: "tSNE 1", color: "#777777", font: { family: sans, size: 9.5 }, padding: { top: 0, bottom: 2 } },
          },
          y: {
            type: "linear",
            min: cfg.yMin,
            max: cfg.yMax,
            afterBuildTicks: (s: any) => { s.ticks = cfg.yTicks.map((value) => ({ value })); },
            afterFit: (s: any) => { s.width = p.l - c.l; },
            border: { display: false },
            grid: {
              color: (ctx: any) => (ctx.tick && ctx.tick.value === 0 ? "#8a8a8a" : "#f0f0f0"),
              lineWidth: (ctx: any) => (ctx.tick && ctx.tick.value === 0 ? 1.4 : 1),
              drawTicks: false,
            },
            ticks: { color: "#858585", font: { family: sans, size: 9 }, padding: 2, autoSkip: false, callback: fmt },
            title: { display: true, text: "tSNE 2", color: "#777777", font: { family: sans, size: 9.5 }, padding: { top: 7, bottom: 0 } },
          },
          // Empty axis that reserves the colour-bar column, so the title stays centred on the full figure.
          spacer: {
            type: "linear",
            position: "right",
            afterFit: (s: any) => { s.width = c.l + c.w - p.r; },
            border: { display: false },
            grid: { display: false },
            ticks: { display: false },
          },
        },
      } as any,
      plugins: [barPlugin],
    });
    return () => chart.destroy();
  }, [cfg]);
  const c = cfg.canvas;
  return <canvas ref={ref} width={c.w} height={c.h} style={{ position: "absolute", left: c.l, top: c.t, width: c.w, height: c.h, filter: "blur(0.45px)" }} />;
}

export default function App() {
  return (
    <div style={{ position: "absolute", left: 0, top: 0, width: 1297, height: 797, overflow: "hidden", background: "#fff" }}>
      {panels.map((cfg) => (
        <Panel key={cfg.title} cfg={cfg} />
      ))}
      {captions.map((text, i) => (
        <div
          key={text}
          style={{
            position: "absolute",
            left: captionCenters[i],
            top: captionTops[i],
            transform: "translate(-50%, -50%)",
            font: '26.4px "Liberation Serif", serif',
            color: "#000",
            whiteSpace: "nowrap",
          }}
        >
          {text}
        </div>
      ))}
    </div>
  );
}
